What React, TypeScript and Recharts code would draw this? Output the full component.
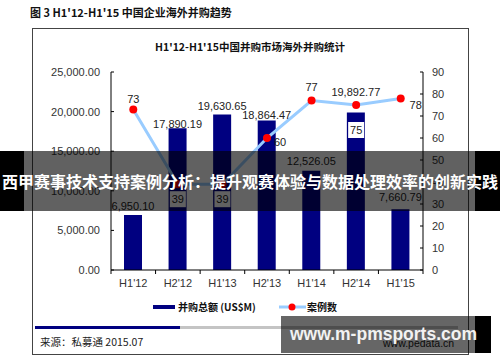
import { Bar, ComposedChart, LabelList, Line, XAxis, YAxis } from "recharts";

const periods = ["H1'12", "H2'12", "H1'13", "H2'13", "H1'14", "H2'14", "H1'15"];
const dealAmounts = [6950.1, 17890.19, 19630.65, 18864.47, 12526.05, 19892.77, 7660.79];
const dealCounts = [73, 39, 39, 60, 77, 75, 78];
const amountTicks = [0, 5000, 10000, 15000, 20000, 25000];
const countTicks = [0, 10, 20, 30, 40, 50, 60, 70, 80, 90];

// label placement, as in the source sheet (labels were nudged by hand there)
const amountLabelGap = [9, 4, 9, 6, 10, 20, 12];
const countLabelShift: Array<[number, number, boolean]> = [
  [0, -10, false],
  [0, 15, true],
  [0, 15, true],
  [13, 4, false],
  [0, -14, false],
  [0, 25, true],
  [15, 7, false],
];

const rows = periods.map((period, i) => ({
  period,
  amount: dealAmounts[i],
  deals: dealCounts[i],
}));

const FONT = "'Liberation Sans', Arial, sans-serif";
const CJK = "'Noto Sans CJK SC', 'Liberation Sans', sans-serif";

const money = (v: number) =>
  v.toLocaleString("en-US", { minimumFractionDigits: 2, maximumFractionDigits: 2 });

function PeriodTick(props: any) {
  const { x, y, payload, index } = props;
  const half = payload?.offset ?? 22;
  const last = index === periods.length - 1;
  return (
    <g>
      <line x1={x - half} x2={x - half} y1={y} y2={y + 4} stroke="#000" />
      {last && <line x1={x + half} x2={x + half} y1={y} y2={y + 4} stroke="#000" />}
      <text x={x} y={y + 17} textAnchor="middle" fontSize={11} fill="#333" fontFamily={FONT}>
        {payload.value}
      </text>
    </g>
  );
}

function AmountLabel(props: any) {
  const { x, y, width, value, index } = props;
  const gap = amountLabelGap[index] ?? 9;
  return (
    <text x={x + width / 2} y={y - gap + 4} textAnchor="middle" fontSize={11} fill="#222" fontFamily={FONT}>
      {money(Number(value))}
    </text>
  );
}

function CountLabel(props: any) {
  const { x, y, value, index } = props;
  const [dx, dy, boxed] = countLabelShift[index] ?? [0, -10, false];
  const cx = x + dx;
  const cy = y + dy;
  return (
    <g>
      {boxed && <rect x={cx - 8} y={cy - 8} width={16} height={16} fill="#fff" />}
      <text x={cx} y={cy + 4} textAnchor="middle" fontSize={11} fill="#222" fontFamily={FONT}>
        {value}
      </text>
    </g>
  );
}

export default function App() {
  return (
    <div
      style={{
        position: "absolute",
        left: 0,
        top: 0,
        width: 500,
        height: 362,
        background: "#fff",
        overflow: "hidden",
        fontFamily: FONT,
      }}
    >
      <div style={{ position: "absolute", left: 30, top: 4, fontSize: 11, fontWeight: 700, color: "#111", fontFamily: CJK, lineHeight: "16px" }}>
        图 3 H1'12-H1'15 中国企业海外并购趋势
      </div>
      <div style={{ position: "absolute", left: 32, top: 28, width: 435, height: 325, border: "1px solid #444" }} />
      <div style={{ position: "absolute", left: 32, top: 39, width: 436, textAlign: "center", fontSize: 10.5, fontWeight: 700, color: "#111", fontFamily: CJK, lineHeight: "16px" }}>
        H1'12-H1'15中国并购市场海外并购统计
      </div>

      <ComposedChart
        width={500}
        height={362}
        data={rows}
        margin={{ top: 72, right: 0, bottom: 62, left: 0 }}
        style={{ position: "absolute", left: 0, top: 0 }}
      >
        <XAxis
          dataKey="period"
          height={30}
          interval={0}
          tickLine={false}
          tickSize={0}
          tickMargin={0}
          axisLine={{ stroke: "#000" }}
          tick={<PeriodTick />}
        />
        <YAxis
          yAxisId="amt"
          width={111}
          domain={[0, 25000]}
          ticks={amountTicks}
          tickFormatter={money}
          tickSize={-3}
          tickMargin={14}
          axisLine={{ stroke: "#000" }}
          tickLine={{ stroke: "#000" }}
          tick={{ fill: "#333", fontSize: 11, fontFamily: FONT }}
        />
        <YAxis
          yAxisId="cnt"
          orientation="right"
          width={77}
          domain={[0, 90]}
          ticks={countTicks}
          tickSize={-3}
          tickMargin={12}
          axisLine={{ stroke: "#000" }}
          tickLine={{ stroke: "#000" }}
          tick={{ fill: "#333", fontSize: 11, fontFamily: FONT }}
        />
        <Bar yAxisId="amt" dataKey="amount" fill="#000080" barSize={18} isAnimationActive={false}>
          <LabelList dataKey="amount" content={<AmountLabel />} />
        </Bar>
        <Line
          yAxisId="cnt"
          dataKey="deals"
          stroke="#99CCFF"
          strokeWidth={3}
          dot={{ r: 4, fill: "#FF0000", stroke: "none" }}
          activeDot={false}
          isAnimationActive={false}
        >
          <LabelList dataKey="deals" content={<CountLabel />} />
        </Line>
      </ComposedChart>

      {/* legend */}
      <div style={{ position: "absolute", left: 153, top: 305, width: 22, height: 4, background: "#000080" }} />
      <div style={{ position: "absolute", left: 178, top: 299, fontSize: 10, fontWeight: 700, color: "#111", fontFamily: CJK, lineHeight: "16px" }}>
        并购总额 (US$M)
      </div>
      <svg style={{ position: "absolute", left: 279, top: 302 }} width={27} height={10}>
        <line x1={0} x2={27} y1={5} y2={5} stroke="#99CCFF" strokeWidth={3} />
        <circle cx={13} cy={5} r={3.5} fill="#FF0000" />
      </svg>
      <div style={{ position: "absolute", left: 307, top: 299, fontSize: 10, fontWeight: 700, color: "#111", fontFamily: CJK, lineHeight: "16px" }}>
        案例数
      </div>

      {/* footer */}
      <div style={{ position: "absolute", left: 35, top: 326, width: 145, height: 3, background: "#000080" }} />
      <div style={{ position: "absolute", left: 180, top: 326, width: 278, height: 3, background: "#c4c4c4" }} />
      <div style={{ position: "absolute", left: 40, top: 334, fontSize: 10.5, color: "#222", fontFamily: CJK, lineHeight: "16px" }}>
        来源：私募通 2015.07
      </div>
      <div style={{ position: "absolute", left: 383, top: 335, fontSize: 10.5, color: "#222", fontFamily: FONT, lineHeight: "16px" }}>
        www.pedata.cn
      </div>

      {/* overlays */}
      <div style={{ position: "absolute", left: 0, top: 151, width: 24, height: 60, background: "#000", zIndex: 5 }} />
      <div style={{ position: "absolute", left: 24, top: 151, width: 451, height: 60, background: "rgba(0,0,0,0.62)", zIndex: 5 }} />
      <div style={{ position: "absolute", left: 475, top: 151, width: 25, height: 60, background: "#000", zIndex: 5 }} />
      <div
        style={{
          position: "absolute",
          left: 0,
          top: 151,
          width: 500,
          height: 60,
          lineHeight: "60px",
          textAlign: "center",
          color: "#fff",
          fontSize: 16,
          fontWeight: 700,
          fontFamily: CJK,
          whiteSpace: "nowrap",
          zIndex: 6,
        }}
      >
        西甲赛事技术支持案例分析：提升观赛体验与数据处理效率的创新实践
      </div>
      <div style={{ position: "absolute", left: 281, top: 316, width: 194, height: 37, background: "rgba(0,0,0,0.6)", zIndex: 5 }} />
      <div style={{ position: "absolute", left: 475, top: 316, width: 16, height: 37, background: "#000", zIndex: 5 }} />
      <div
        style={{
          position: "absolute",
          left: 290,
          top: 316,
          height: 37,
          lineHeight: "37px",
          color: "#f2f2f2",
          fontSize: 17.5,
          fontWeight: 700,
          fontFamily: FONT,
          whiteSpace: "nowrap",
          zIndex: 6,
        }}
      >
        www.m-pmsports.com
      </div>
    </div>
  );
}
